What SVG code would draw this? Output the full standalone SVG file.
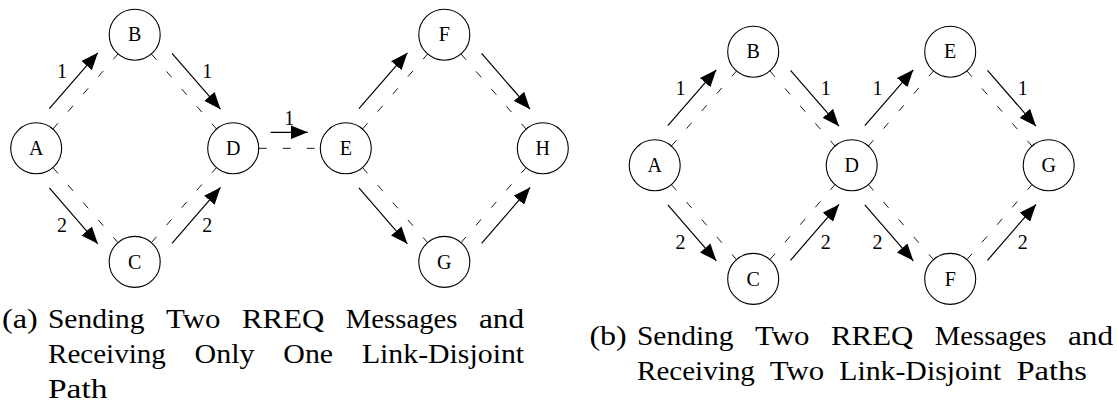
<svg xmlns="http://www.w3.org/2000/svg" width="1117" height="405" viewBox="0 0 1117 405" font-family="'Liberation Serif', 'DejaVu Serif', 'Times New Roman', serif">
<style>
  text { font-family: 'Liberation Serif', 'DejaVu Serif', 'Times New Roman', serif; }
  .nd circle { fill: #ffffff; stroke: #000000; stroke-width: 1.1; }
  .nd text { font-size: 20px; text-anchor: middle; fill: #000000; }
  .arr { stroke: #000000; stroke-width: 1.2; fill: none; marker-end: url(#ah); }
  .dsh { stroke: #000000; stroke-width: 0.9; fill: none; stroke-dasharray: 7.7 15.4; }
  .el { font-size: 20px; text-anchor: middle; fill: #000000; }
  .cap { font-size: 28px; fill: #000000; }
</style>
<defs>
  <marker id="ah" markerUnits="userSpaceOnUse" markerWidth="17" markerHeight="14" viewBox="0 0 16 13" refX="16" refY="6.5" orient="auto">
    <path d="M0,0 L16,6.5 L0,13 Z" fill="#000000"/>
  </marker>
</defs>
<rect x="0" y="0" width="1117" height="405" fill="#ffffff"/>

<!-- ===== Diagram (a) ===== -->
<g id="diagram-a">
  <g id="a-connectors">
    <!-- A-B -->
    <line class="dsh" x1="52.91" y1="129.03" x2="117.99" y2="53.97"/>
    <line class="arr" x1="49.33" y1="108.73" x2="97.81" y2="52.83"/>
    <text class="el" x="62.03" y="78.2">1</text>
    <!-- B-D -->
    <line class="dsh" x1="151.41" y1="53.97" x2="216.49" y2="129.03"/>
    <line class="arr" x1="172.01" y1="53.31" x2="220.49" y2="109.21"/>
    <text class="el" x="207.37" y="78.2">1</text>
    <!-- A-C -->
    <line class="dsh" x1="52.91" y1="167.57" x2="117.99" y2="242.63"/>
    <line class="arr" x1="49.33" y1="187.87" x2="97.81" y2="243.77"/>
    <text class="el" x="62.03" y="232.4">2</text>
    <!-- C-D -->
    <line class="dsh" x1="151.41" y1="242.63" x2="216.49" y2="167.57"/>
    <line class="arr" x1="172.01" y1="243.29" x2="220.49" y2="187.39"/>
    <text class="el" x="207.37" y="232.4">2</text>
    <!-- D-E -->
    <line class="dsh" x1="258.7" y1="148.3" x2="320.3" y2="148.3" style="stroke-dasharray: 8 16"/>
    <line class="arr" x1="270.7" y1="132.3" x2="307.7" y2="132.3"/>
    <text class="el" x="289.3" y="124.5">1</text>
    <!-- E-F -->
    <line class="dsh" x1="362.51" y1="129.03" x2="427.59" y2="53.97"/>
    <line class="arr" x1="358.93" y1="108.73" x2="407.41" y2="52.83"/>
    <!-- F-H -->
    <line class="dsh" x1="461.01" y1="53.97" x2="526.09" y2="129.03"/>
    <line class="arr" x1="481.61" y1="53.31" x2="530.09" y2="109.21"/>
    <!-- E-G -->
    <line class="dsh" x1="362.51" y1="167.57" x2="427.59" y2="242.63"/>
    <line class="arr" x1="358.93" y1="187.87" x2="407.41" y2="243.77"/>
    <!-- G-H -->
    <line class="dsh" x1="461.01" y1="242.63" x2="526.09" y2="167.57"/>
    <line class="arr" x1="481.61" y1="243.29" x2="530.09" y2="187.39"/>
  </g>
  <g id="a-A" class="nd"><circle cx="36.2" cy="148.3" r="25.5"/><text x="36.2" y="155">A</text></g>
  <g id="a-B" class="nd"><circle cx="134.7" cy="34.7" r="25.5"/><text x="134.7" y="41.4">B</text></g>
  <g id="a-C" class="nd"><circle cx="134.7" cy="261.9" r="25.5"/><text x="134.7" y="268.6">C</text></g>
  <g id="a-D" class="nd"><circle cx="233.2" cy="148.3" r="25.5"/><text x="233.2" y="155">D</text></g>
  <g id="a-E" class="nd"><circle cx="345.8" cy="148.3" r="25.5"/><text x="345.8" y="155">E</text></g>
  <g id="a-F" class="nd"><circle cx="444.3" cy="34.7" r="25.5"/><text x="444.3" y="41.4">F</text></g>
  <g id="a-G" class="nd"><circle cx="444.3" cy="261.9" r="25.5"/><text x="444.3" y="268.6">G</text></g>
  <g id="a-H" class="nd"><circle cx="542.8" cy="148.3" r="25.5"/><text x="542.8" y="155">H</text></g>
  <g id="caption-a">
    <text class="cap" x="2" y="328" textLength="35.8" lengthAdjust="spacingAndGlyphs">(a)</text>
    <text class="cap" x="48" y="328" textLength="96.5" lengthAdjust="spacingAndGlyphs">Sending</text>
    <text class="cap" x="166.1" y="328" textLength="54.4" lengthAdjust="spacingAndGlyphs">Two</text>
    <text class="cap" x="242.1" y="328" textLength="82.1" lengthAdjust="spacingAndGlyphs">RREQ</text>
    <text class="cap" x="345.8" y="328" textLength="111.6" lengthAdjust="spacingAndGlyphs">Messages</text>
    <text class="cap" x="479" y="328" textLength="45.1" lengthAdjust="spacingAndGlyphs">and</text>
    <text class="cap" x="48" y="363" textLength="117.8" lengthAdjust="spacingAndGlyphs">Receiving</text>
    <text class="cap" x="194.6" y="363" textLength="59.9" lengthAdjust="spacingAndGlyphs">Only</text>
    <text class="cap" x="283.3" y="363" textLength="49.8" lengthAdjust="spacingAndGlyphs">One</text>
    <text class="cap" x="361.9" y="363" textLength="162.2" lengthAdjust="spacingAndGlyphs">Link-Disjoint</text>
    <text class="cap" x="48" y="398" textLength="59.5" lengthAdjust="spacingAndGlyphs">Path</text>
  </g>
</g>

<!-- ===== Diagram (b) ===== -->
<g id="diagram-b">
  <g id="b-connectors">
    <!-- A-B -->
    <line class="dsh" x1="671.41" y1="146.03" x2="736.49" y2="70.97"/>
    <line class="arr" x1="667.83" y1="125.73" x2="716.31" y2="69.83"/>
    <text class="el" x="680.53" y="95.2">1</text>
    <!-- B-D -->
    <line class="dsh" x1="769.91" y1="70.97" x2="834.99" y2="146.03"/>
    <line class="arr" x1="790.51" y1="70.31" x2="838.99" y2="126.21"/>
    <text class="el" x="825.87" y="95.2">1</text>
    <!-- A-C -->
    <line class="dsh" x1="671.41" y1="184.57" x2="736.49" y2="259.63"/>
    <line class="arr" x1="667.83" y1="204.87" x2="716.31" y2="260.77"/>
    <text class="el" x="680.53" y="249.4">2</text>
    <!-- C-D -->
    <line class="dsh" x1="769.91" y1="259.63" x2="834.99" y2="184.57"/>
    <line class="arr" x1="790.51" y1="260.29" x2="838.99" y2="204.39"/>
    <text class="el" x="825.87" y="249.4">2</text>
    <!-- D-E -->
    <line class="dsh" x1="868.41" y1="146.03" x2="933.49" y2="70.97"/>
    <line class="arr" x1="864.83" y1="125.73" x2="913.31" y2="69.83"/>
    <text class="el" x="877.53" y="95.2">1</text>
    <!-- E-G -->
    <line class="dsh" x1="966.91" y1="70.97" x2="1031.99" y2="146.03"/>
    <line class="arr" x1="987.51" y1="70.31" x2="1035.99" y2="126.21"/>
    <text class="el" x="1022.87" y="95.2">1</text>
    <!-- D-F -->
    <line class="dsh" x1="868.41" y1="184.57" x2="933.49" y2="259.63"/>
    <line class="arr" x1="864.83" y1="204.87" x2="913.31" y2="260.77"/>
    <text class="el" x="877.53" y="249.4">2</text>
    <!-- F-G -->
    <line class="dsh" x1="966.91" y1="259.63" x2="1031.99" y2="184.57"/>
    <line class="arr" x1="987.51" y1="260.29" x2="1035.99" y2="204.39"/>
    <text class="el" x="1022.87" y="249.4">2</text>
  </g>
  <g id="b-A" class="nd"><circle cx="654.7" cy="165.3" r="25.5"/><text x="654.7" y="172">A</text></g>
  <g id="b-B" class="nd"><circle cx="753.2" cy="51.7" r="25.5"/><text x="753.2" y="58.4">B</text></g>
  <g id="b-C" class="nd"><circle cx="753.2" cy="278.9" r="25.5"/><text x="753.2" y="285.6">C</text></g>
  <g id="b-D" class="nd"><circle cx="851.7" cy="165.3" r="25.5"/><text x="851.7" y="172">D</text></g>
  <g id="b-E" class="nd"><circle cx="950.2" cy="51.7" r="25.5"/><text x="950.2" y="58.4">E</text></g>
  <g id="b-F" class="nd"><circle cx="950.2" cy="278.9" r="25.5"/><text x="950.2" y="285.6">F</text></g>
  <g id="b-G" class="nd"><circle cx="1048.7" cy="165.3" r="25.5"/><text x="1048.7" y="172">G</text></g>
  <g id="caption-b">
    <text class="cap" x="589.4" y="345" textLength="37.4" lengthAdjust="spacingAndGlyphs">(b)</text>
    <text class="cap" x="637" y="345" textLength="96.5" lengthAdjust="spacingAndGlyphs">Sending</text>
    <text class="cap" x="755.1" y="345" textLength="54.4" lengthAdjust="spacingAndGlyphs">Two</text>
    <text class="cap" x="831.1" y="345" textLength="82.1" lengthAdjust="spacingAndGlyphs">RREQ</text>
    <text class="cap" x="934.8" y="345" textLength="111.6" lengthAdjust="spacingAndGlyphs">Messages</text>
    <text class="cap" x="1068" y="345" textLength="45.1" lengthAdjust="spacingAndGlyphs">and</text>
    <text class="cap" x="637" y="380" textLength="117.8" lengthAdjust="spacingAndGlyphs">Receiving</text>
    <text class="cap" x="769.8" y="380" textLength="54.4" lengthAdjust="spacingAndGlyphs">Two</text>
    <text class="cap" x="839.2" y="380" textLength="162.2" lengthAdjust="spacingAndGlyphs">Link-Disjoint</text>
    <text class="cap" x="1016.4" y="380" textLength="70.6" lengthAdjust="spacingAndGlyphs">Paths</text>
  </g>
</g>
</svg>
